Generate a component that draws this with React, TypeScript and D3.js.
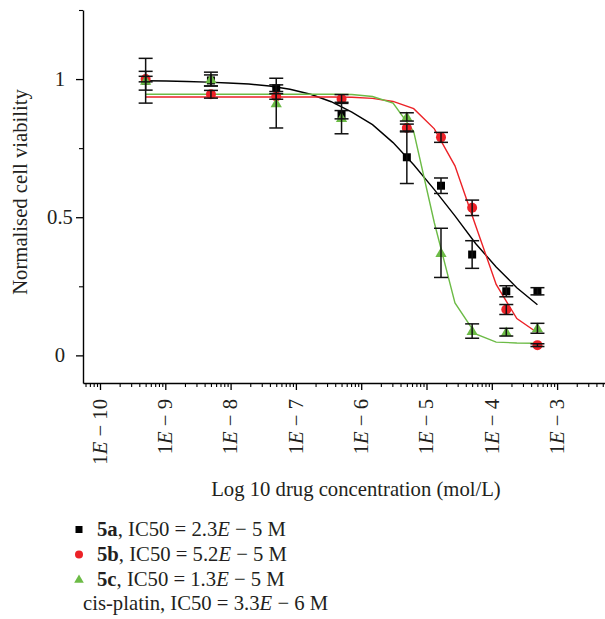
import React, { useEffect, useRef } from 'react';
import * as d3 from 'd3';

// log10 of drug concentration (mol/L) for measured points
const concLog = [-9.301, -8.301, -7.301, -6.301, -5.301, -4.778, -4.301, -3.778, -3.301];

const mean5a = [0.994, 0.995, 0.967, 0.871, 0.717, 0.614, 0.365, 0.232, 0.232];
const err5a = [0.081, 0.02, 0.012, 0.015, 0.095, 0.028, 0.05, 0.02, 0.013];
const mean5b = [1.0, 0.945, 0.937, 0.928, 0.823, 0.789, 0.534, 0.166, 0.037];
const err5b = [0.01, 0.014, 0.01, 0.016, 0.014, 0.018, 0.028, 0.018, 0.005];
const mean5c = [0.994, 1.0, 0.913, 0.859, 0.863, 0.371, 0.088, 0.084, 0.098];
const err5c = [0.034, 0.025, 0.09, 0.057, 0.015, 0.089, 0.026, 0.014, 0.018];

// fitted curves
const fitLog = [-9.301, -8.985, -8.669, -8.354, -8.038, -7.722, -7.406, -7.091, -6.775, -6.459,
  -6.143, -5.827, -5.512, -5.196, -4.88, -4.564, -4.248, -3.933, -3.617, -3.301];
const fit5a = [0.994, 0.993, 0.991, 0.989, 0.986, 0.982, 0.975, 0.963, 0.945, 0.918,
  0.88, 0.835, 0.77, 0.69, 0.6, 0.505, 0.405, 0.32, 0.245, 0.183];
const fit5b = [0.935, 0.935, 0.935, 0.935, 0.935, 0.935, 0.935, 0.935, 0.935, 0.935,
  0.934, 0.93, 0.919, 0.893, 0.82, 0.686, 0.47, 0.257, 0.133, 0.082];
const fit5c = [0.945, 0.945, 0.945, 0.945, 0.945, 0.945, 0.945, 0.945, 0.945, 0.945,
  0.944, 0.937, 0.913, 0.81, 0.48, 0.19, 0.078, 0.048, 0.045, 0.044];

const majorLog = [-10, -9, -8, -7, -6, -5, -4, -3];
const majorExp = ['10', '9', '8', '7', '6', '5', '4', '3'];
const yMajor = [0, 0.5, 1];
const yMinor = [0.25, 0.75, 1.25];

const legendNames = ['5a', '5b', '5c'];
const legendIC50 = ['2.3', '5.2', '1.3'];
const legendExp = ['5', '5', '5'];

const RED = '#ec2227';
const GREEN = '#6cbb46';
const TEXT = '#231f20';
const FONT = '"Liberation Serif", "Times New Roman", serif';
const FS = 20.7;

const App = () => {
  const svgRef = useRef<SVGSVGElement>(null);

  useEffect(() => {
    const svg = d3.select(svgRef.current);
    svg.selectAll('*').remove();

    const x = d3.scaleLinear().domain([-10.2603, -2]).range([83, 622.4]);
    const y = d3.scaleLinear().domain([-0.1, 1.25]).range([383, 10]);

    // x axis: minor ticks then major ticks
    const minor: number[] = [];
    for (let e = -11; e <= -3; e++) {
      for (let m = 2; m <= 9; m++) {
        const v = e + Math.log10(m);
        if (v > -10.26 && v < -2) minor.push(v);
      }
    }
    const xMinor = svg.append('g').attr('transform', 'translate(0,383)')
      .call(d3.axisBottom(x).tickValues(minor).tickSize(4).tickSizeOuter(0).tickFormat(() => ''));
    xMinor.select('.domain').attr('stroke-width', 1.4);
    xMinor.selectAll('.tick line').attr('stroke-width', 1.1);
    const xMajor = svg.append('g').attr('transform', 'translate(0,383)')
      .call(d3.axisBottom(x).tickValues(majorLog).tickSize(7).tickSizeOuter(0).tickFormat(() => ''));
    xMajor.select('.domain').remove();
    xMajor.selectAll('.tick line').attr('stroke-width', 1.3);

    majorLog.forEach((v, i) => {
      const t = svg.append('text')
        .attr('transform', `translate(${x(v)},399) rotate(-90)`)
        .attr('text-anchor', 'end')
        .attr('dy', '0.33em')
        .attr('font-family', FONT)
        .attr('font-size', FS)
        .attr('fill', TEXT);
      t.append('tspan').text('1');
      t.append('tspan').attr('font-style', 'italic').text('E');
      t.append('tspan').text(` \u2212 ${majorExp[i]}`);
    });

    // y axis
    const yMin = svg.append('g').attr('transform', 'translate(83,0)')
      .call(d3.axisLeft(y).tickValues(yMinor).tickSize(4).tickSizeOuter(0).tickFormat(() => ''));
    yMin.select('.domain').attr('stroke-width', 1.4);
    yMin.selectAll('.tick line').attr('stroke-width', 1.1);
    const yMaj = svg.append('g').attr('transform', 'translate(83,0)')
      .call(d3.axisLeft(y).tickValues(yMajor).tickSize(7).tickSizeOuter(0)
        .tickFormat(d => (d === 0 ? '0' : d === 1 ? '1' : '0.5')));
    yMaj.select('.domain').remove();
    yMaj.selectAll('.tick line').attr('stroke-width', 1.3);
    yMaj.selectAll('.tick text')
      .attr('x', -23)
      .attr('text-anchor', 'middle')
      .attr('font-family', FONT)
      .attr('font-size', FS)
      .attr('fill', TEXT);

    // axis titles
    svg.append('text')
      .attr('transform', 'translate(27,192) rotate(-90)')
      .attr('text-anchor', 'middle')
      .attr('font-family', FONT)
      .attr('font-size', FS)
      .attr('fill', TEXT)
      .text('Normalised cell viability');
    svg.append('text')
      .attr('x', 356)
      .attr('y', 496)
      .attr('text-anchor', 'middle')
      .attr('font-family', FONT)
      .attr('font-size', FS)
      .attr('fill', TEXT)
      .text('Log 10 drug concentration (mol/L)');

    // fitted curves
    const line = d3.line<number>().x((d, i) => x(fitLog[i])).y(d => y(d));
    [[fit5a, '#000'], [fit5b, RED], [fit5c, GREEN]].forEach(([vals, c]) => {
      svg.append('path')
        .datum(vals as number[])
        .attr('d', line)
        .attr('fill', 'none')
        .attr('stroke', c as string)
        .attr('stroke-width', 1.4);
    });

    const tri = d3.symbol().type(d3.symbolTriangle).size(55);

    // markers
    concLog.forEach((v, i) => {
      svg.append('rect')
        .attr('x', x(v) - 4).attr('y', y(mean5a[i]) - 4)
        .attr('width', 8).attr('height', 8).attr('fill', '#000');
    });
    concLog.forEach((v, i) => {
      svg.append('circle')
        .attr('cx', x(v)).attr('cy', y(mean5b[i])).attr('r', 5).attr('fill', RED);
    });
    concLog.forEach((v, i) => {
      svg.append('path')
        .attr('d', tri)
        .attr('transform', `translate(${x(v)},${y(mean5c[i]) + 0.8})`)
        .attr('fill', GREEN);
    });

    // error bars
    const errs: [number[], number[]][] = [[mean5a, err5a], [mean5b, err5b], [mean5c, err5c]];
    errs.forEach(([m, e]) => {
      concLog.forEach((v, i) => {
        const cx = x(v);
        const top = y(m[i] + e[i]);
        const bot = y(m[i] - e[i]);
        const g = svg.append('g').attr('stroke', '#111').attr('stroke-width', 1.5);
        g.append('line').attr('x1', cx).attr('x2', cx).attr('y1', top).attr('y2', bot);
        g.append('line').attr('x1', cx - 7).attr('x2', cx + 7).attr('y1', top).attr('y2', top);
        g.append('line').attr('x1', cx - 7).attr('x2', cx + 7).attr('y1', bot).attr('y2', bot);
      });
    });

    // legend
    const rowY = [536, 561, 586];
    svg.append('rect').attr('x', 75.5).attr('y', rowY[0] - 10).attr('width', 7).attr('height', 7).attr('fill', '#000');
    svg.append('circle').attr('cx', 79).attr('cy', rowY[1] - 6.5).attr('r', 4).attr('fill', RED);
    svg.append('path').attr('d', d3.symbol().type(d3.symbolTriangle).size(40))
      .attr('transform', `translate(79,${rowY[2] - 6})`).attr('fill', GREEN);

    legendNames.forEach((n, i) => {
      const t = svg.append('text')
        .attr('x', 97)
        .attr('y', rowY[i])
        .attr('font-family', FONT)
        .attr('font-size', FS)
        .attr('fill', TEXT);
      t.append('tspan').attr('font-weight', 'bold').text(n);
      t.append('tspan').text(`, IC50 = ${legendIC50[i]}`);
      t.append('tspan').attr('font-style', 'italic').text('E');
      t.append('tspan').text(` \u2212 ${legendExp[i]} M`);
    });
    const cis = svg.append('text')
      .attr('x', 83)
      .attr('y', 610)
      .attr('font-family', FONT)
      .attr('font-size', FS)
      .attr('fill', TEXT);
    cis.append('tspan').text('cis-platin, IC50 = 3.3');
    cis.append('tspan').attr('font-style', 'italic').text('E');
    cis.append('tspan').text(' \u2212 6 M');
  }, []);

  return (
    <div style={{ position: 'absolute', left: 0, top: 0 }}>
      <svg ref={svgRef} width={605} height={619} style={{ display: 'block', background: '#fff' }} />
    </div>
  );
};

export default App;
